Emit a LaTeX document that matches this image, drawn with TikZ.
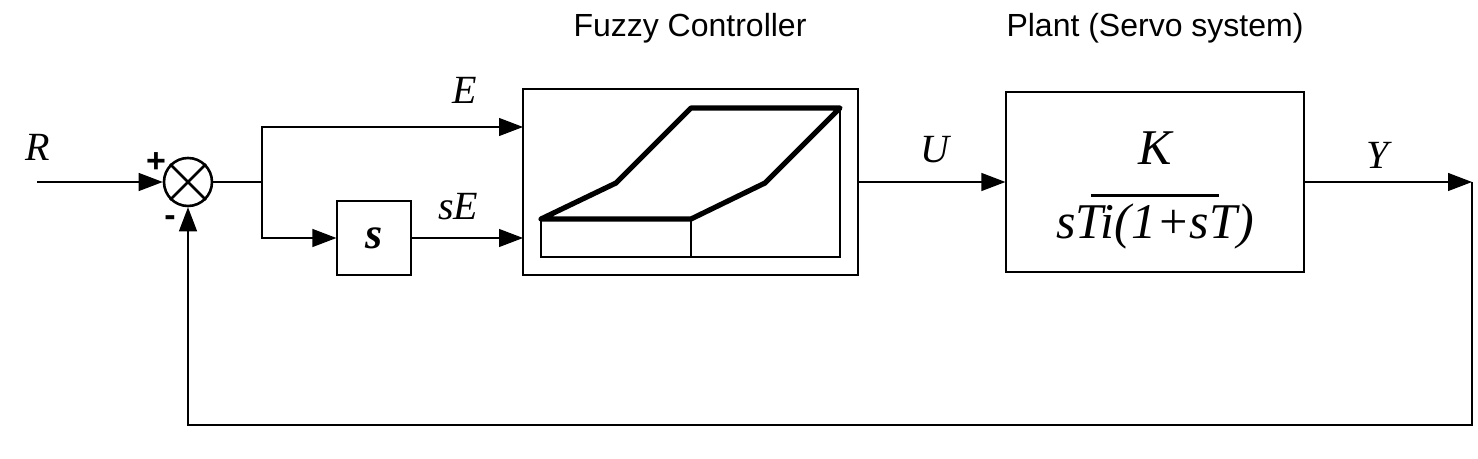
\documentclass[tikz,border=0pt]{standalone}
\usepackage{fontspec}
\usetikzlibrary{arrows.meta}
\setmainfont{Liberation Sans}
\newfontfamily\ser{Liberation Serif}
\begin{document}
\begin{tikzpicture}[x=0.5pt,y=-0.5pt,
  blk/.style={draw,line width=0.6pt,inner sep=0},
  arr/.style={-{Triangle[length=12pt,width=9pt]},line width=0.6pt},
  ln/.style={line width=0.6pt},
  lab/.style={font=\ser\itshape\fontsize{20}{20}\selectfont},
  ttl/.style={font=\fontsize{16}{16}\selectfont}]
\useasboundingbox (0,0) rectangle (1478,459);
\node[ttl] (t1) at (690,28) {Fuzzy Controller};
\node[ttl] (t2) at (1155,28) {Plant (Servo system)};
\coordinate (rin) at (37,182);
\node[draw,circle,line width=1.3pt,minimum size=24pt,inner sep=0] (sum) at (188,182) {};
\draw[line width=1.3pt] (sum.north west)--(sum.south east) (sum.north east)--(sum.south west);
\node[blk,minimum width=37pt,minimum height=37pt] (s) at (374,238) {\ser\bfseries\itshape\fontsize{22}{22}\selectfont s};
\node[blk,minimum width=167.5pt,minimum height=93pt] (fz) at (690.5,182) {};
\node[blk,minimum width=149pt,minimum height=90pt] (pl) at (1155,182) {};
\node (fr) at (1155,192) {\ser\itshape\fontsize{25}{25}\selectfont\begin{tabular}{c}K\\[-9pt]\rule{64pt}{1.5pt}\\[-4pt]sTi(1+sT)\end{tabular}};
\coordinate (br) at (262,182);
\coordinate (yout) at (1472,182);
\draw[arr] (rin) -- (sum.west);
\draw[ln] (sum.east) -- (br);
\draw[arr] (br) |- (523,127);
\draw[arr] (br) |- (s.west);
\draw[arr] (s.east) -- (523,238);
\draw[arr] (fz.east) -- (pl.west);
\draw[arr] (pl.east) -- (yout);
\draw[arr] (yout) -- (1472,425) -- (188,425) -- (sum.south);
\draw[ln] (541,219) -- (541,257) -- (840,257) -- (840,108);
\draw[ln] (691,219)--(691,257);
\draw[line width=2.6pt,line join=round,line cap=round] (541,219)--(616,183)--(691,108)--(840,108)--(765,183)--(691,219)--cycle;
\node[lab] (lR) at (38,147) {R};
\node[lab] (lE) at (465,90) {E};
\node[lab] (lsE) at (458,207) {sE};
\node[lab] (lU) at (935,150) {U};
\node[lab] (lY) at (1378,155) {Y};
\node[font=\bfseries\fontsize{17}{17}\selectfont] (pl1) at (156,163) {+};
\node[font=\bfseries\fontsize{17}{17}\selectfont] (mi1) at (170,221) {-};
\end{tikzpicture}
\end{document}
